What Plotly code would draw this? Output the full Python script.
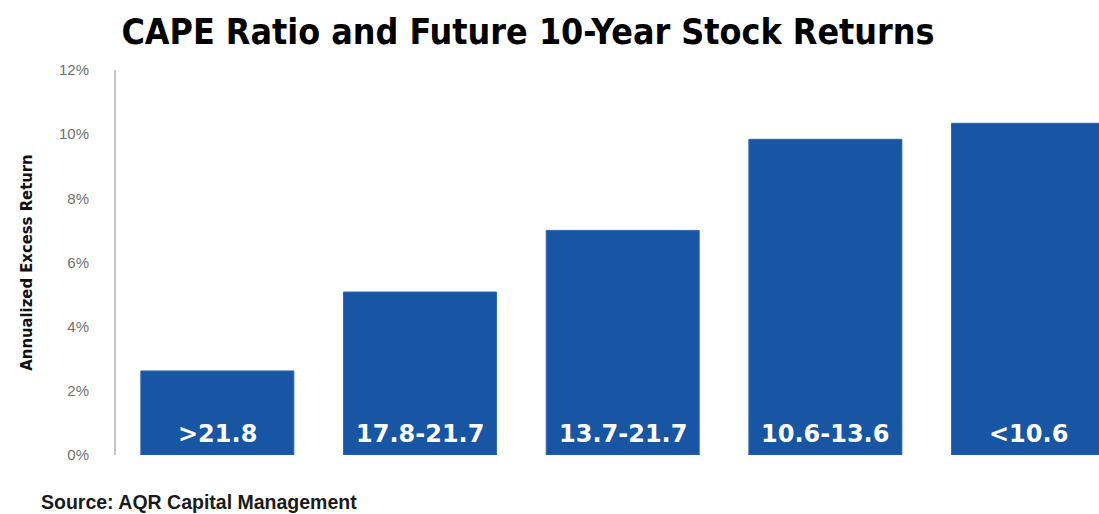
import plotly.graph_objects as go

categories = [">21.8", "17.8-21.7", "13.7-21.7", "10.6-13.6", "<10.6"]
returns_pct = [2.62, 5.08, 7.0, 9.84, 10.34]
y_ticks = [0, 2, 4, 6, 8, 10, 12]

BAR = "#1855a3"
COND = "DejaVu Sans Condensed"

fig = go.Figure()
fig.add_trace(go.Bar(
    x=categories, y=returns_pct,
    marker=dict(color=BAR, line=dict(color="#2f68b0", width=1)),
    hoverinfo="skip",
))

for c in categories:
    fig.add_annotation(
        x=c, y=0, xref="x", yref="y", text=c, showarrow=False,
        yanchor="bottom", yshift=5,
        font=dict(family="DejaVu Sans", size=24, color="white", weight="bold"),
    )

fig.add_annotation(
    xref="paper", yref="paper", x=-0.0783, y=-0.122,
    xanchor="left", yanchor="middle", showarrow=False,
    text="<b>Source: AQR Capital Management</b>",
    font=dict(family="Liberation Sans, Arial", size=19.5, color="#1a1a1a"),
)

fig.update_layout(
    width=1099, height=514,
    margin=dict(l=116, r=0, t=70, b=59),
    paper_bgcolor="white", plot_bgcolor="white",
    showlegend=False,
    bargap=0.245,
    title=dict(
        text="<b>CAPE Ratio and Future 10-Year Stock Returns</b>",
        x=528 / 1099, xanchor="center", y=1 - 32 / 514, yanchor="middle",
        xref="container", yref="container",
        font=dict(family=COND, size=35.5, color="#000000"),
    ),
    xaxis=dict(
        range=[-0.5, 4.35], showticklabels=False, showgrid=False,
        showline=False, zeroline=False, ticks="",
    ),
    yaxis=dict(
        range=[0, 12], tickvals=y_ticks, ticktext=[f"{v}%" for v in y_ticks],
        showgrid=False, zeroline=False, showline=True,
        linecolor="#c4c4c4", linewidth=2, ticks="",
        ticklabelstandoff=22,
        tickfont=dict(family="Liberation Sans, Arial", size=15, color="#707070"),
        title=dict(
            text="<b>Annualized Excess Return</b>", standoff=22,
            font=dict(family=COND, size=16.5, color="#111111"),
        ),
    ),
)

fig.write_html("out.html")
